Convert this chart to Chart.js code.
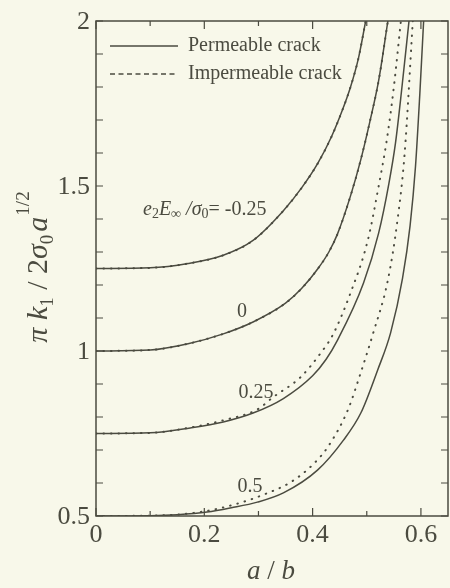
<!DOCTYPE html>
<html>
<head>
<meta charset="utf-8">
<script src="https://cdn.jsdelivr.net/npm/chart.js@4.4.1/dist/chart.umd.min.js"></script>
<style>
  html, body { margin: 0; padding: 0; background: #f8f8ea; }
  #wrap { width: 450px; height: 588px; position: relative; }
</style>
</head>
<body>
<div id="wrap"><canvas id="crackChart"></canvas></div>
<script>
// values, [a/b, pi k1 / 2 sigma0 a^1/2]
const permNeg025 = [[0,1.25],[0.1,1.252],[0.17,1.265],[0.235,1.29],[0.29,1.335],[0.346,1.425],[0.38,1.495],[0.41,1.57],[0.435,1.65],[0.455,1.73],[0.47,1.8],[0.485,1.89],[0.498,2.0]];
const impNeg025  = [[0,1.25],[0.1,1.252],[0.17,1.265],[0.235,1.29],[0.29,1.335],[0.346,1.425],[0.38,1.495],[0.41,1.57],[0.435,1.65],[0.455,1.73],[0.47,1.8],[0.485,1.89],[0.498,2.0]];
const perm0 = [[0,1.0],[0.1,1.003],[0.17,1.022],[0.235,1.052],[0.29,1.088],[0.35,1.145],[0.38,1.19],[0.41,1.25],[0.43,1.3],[0.446,1.355],[0.47,1.47],[0.489,1.58],[0.505,1.69],[0.522,1.82],[0.539,2.0]];
const imp0  = [[0,1.0],[0.1,1.003],[0.17,1.022],[0.235,1.052],[0.29,1.088],[0.35,1.145],[0.38,1.19],[0.41,1.25],[0.43,1.3],[0.446,1.355],[0.47,1.47],[0.489,1.58],[0.505,1.69],[0.522,1.82],[0.539,2.0]];
const perm025 = [[0,0.75],[0.1,0.752],[0.174,0.767],[0.235,0.785],[0.29,0.812],[0.346,0.856],[0.4,0.925],[0.425,0.975],[0.446,1.033],[0.494,1.206],[0.522,1.358],[0.541,1.509],[0.553,1.63],[0.565,1.8],[0.578,2.0]];
const imp025  = [[0,0.75],[0.1,0.752],[0.174,0.768],[0.235,0.79],[0.298,0.823],[0.327,0.86],[0.378,0.921],[0.415,0.994],[0.437,1.048],[0.47,1.176],[0.502,1.336],[0.522,1.5],[0.537,1.64],[0.55,1.8],[0.563,2.0]];
const perm05 = [[0,0.5],[0.1,0.501],[0.15,0.504],[0.205,0.512],[0.25,0.525],[0.298,0.542],[0.346,0.57],[0.409,0.639],[0.457,0.73],[0.489,0.812],[0.52,0.942],[0.544,1.055],[0.566,1.22],[0.58,1.38],[0.59,1.56],[0.598,1.78],[0.605,2.0]];
const imp05  = [[0,0.5],[0.12,0.502],[0.2,0.514],[0.26,0.537],[0.31,0.565],[0.36,0.603],[0.4,0.655],[0.428,0.709],[0.465,0.821],[0.489,0.935],[0.512,1.055],[0.539,1.215],[0.557,1.4],[0.57,1.6],[0.585,2.0]];

const xTicks = [0, 0.1, 0.2, 0.3, 0.4, 0.5, 0.6];
const xTickLabels = ['0', '', '0.2', '', '0.4', '', '0.6'];
const yTicks = [0.5, 0.6, 0.7, 0.8, 0.9, 1.0, 1.1, 1.2, 1.3, 1.4, 1.5, 1.6, 1.7, 1.8, 1.9, 2.0];
const yTickLabels = ['0.5', '', '', '', '', '1', '', '', '', '', '1.5', '', '', '', '', '2'];

const legendLabels = ['Permeable crack', 'Impermeable crack'];
const curveLabels = ['0', '0.25', '0.5'];

const ink = '#4b4b40';
const serif = '"Liberation Serif", "DejaVu Serif", serif';

function toXY(arr) {
    return arr.map(p => ({ x: p[0], y: p[1] }));
}

function solid(arr) {
    return { data: toXY(arr), borderColor: ink, borderWidth: 1.5, pointRadius: 0, cubicInterpolationMode: 'monotone', fill: false };
}

function dotted(arr) {
    return { data: toXY(arr), borderColor: ink, borderWidth: 2, borderDash: [0.5, 7], borderCapStyle: 'round', pointRadius: 0, cubicInterpolationMode: 'monotone', fill: false };
}

// draw a run of text pieces with different fonts / offsets
function richText(ctx, parts, x, y, align) {
    let total = 0;
    parts.forEach(p => { ctx.font = p.font; total += ctx.measureText(p.t).width + (p.gap || 0); });
    let cx = align === 'center' ? x - total / 2 : x;
    parts.forEach(p => {
        ctx.font = p.font;
        ctx.fillText(p.t, cx, y + (p.dy || 0));
        cx += ctx.measureText(p.t).width + (p.gap || 0);
    });
}

const framePlugin = {
    id: 'framePlugin',
    afterDraw(chart) {
        const ctx = chart.ctx;
        const area = chart.chartArea;
        const xs = chart.scales.x, ys = chart.scales.y;
        ctx.save();
        ctx.strokeStyle = ink;
        ctx.fillStyle = ink;
        ctx.lineWidth = 1.5;
        ctx.strokeRect(area.left, area.top, area.right - area.left, area.bottom - area.top);

        // inward ticks, all four sides
        ctx.lineWidth = 1.2;
        ctx.beginPath();
        xTicks.forEach((v, i) => {
            const px = xs.getPixelForValue(v);
            const len = xTickLabels[i] ? 8 : 5;
            ctx.moveTo(px, area.bottom); ctx.lineTo(px, area.bottom - len);
            ctx.moveTo(px, area.top); ctx.lineTo(px, area.top + len);
        });
        yTicks.forEach(v => {
            const py = ys.getPixelForValue(v);
            ctx.moveTo(area.left, py); ctx.lineTo(area.left + 7, py);
            ctx.moveTo(area.right, py); ctx.lineTo(area.right - 7, py);
        });
        ctx.stroke();

        // tick labels
        ctx.font = '26px ' + serif;
        ctx.textAlign = 'center';
        ctx.textBaseline = 'top';
        xTicks.forEach((v, i) => {
            if (xTickLabels[i]) ctx.fillText(xTickLabels[i], xs.getPixelForValue(v), area.bottom + 6);
        });
        ctx.textAlign = 'right';
        ctx.textBaseline = 'middle';
        yTicks.forEach((v, i) => {
            if (yTickLabels[i]) ctx.fillText(yTickLabels[i], area.left - 6, ys.getPixelForValue(v) + 1);
        });

        // axis titles
        ctx.textAlign = 'left';
        ctx.textBaseline = 'alphabetic';
        richText(ctx, [{ t: 'a', font: 'italic 27px ' + serif }, { t: ' / ', font: '27px ' + serif }, { t: 'b', font: 'italic 27px ' + serif }], 271, 579, 'center');

        const it30 = 'italic 30px ' + serif, rm30 = '30px ' + serif, sub = '19px ' + serif;
        ctx.save();
        ctx.translate(47, 267);
        ctx.rotate(-Math.PI / 2);
        richText(ctx, [
            { t: 'π ', font: it30 },
            { t: 'k', font: it30 },
            { t: '1', font: sub, dy: 6 },
            { t: ' / 2', font: rm30 },
            { t: 'σ', font: it30 },
            { t: '0', font: sub, dy: 6, gap: 3 },
            { t: 'a', font: it30, gap: 1 },
            { t: '1/2', font: sub, dy: -18 }
        ], 0, 0, 'center');
        ctx.restore();

        // legend
        ctx.lineWidth = 1.5;
        ctx.beginPath();
        ctx.moveTo(110, 46); ctx.lineTo(178, 46);
        ctx.stroke();
        ctx.setLineDash([5, 3.5]);
        ctx.beginPath();
        ctx.moveTo(110, 74); ctx.lineTo(178, 74);
        ctx.stroke();
        ctx.setLineDash([]);
        ctx.font = '20px ' + serif;
        ctx.textBaseline = 'middle';
        ctx.fillText(legendLabels[0], 188, 46);
        ctx.fillText(legendLabels[1], 188, 74);

        // curve labels
        const it20 = 'italic 20px ' + serif, rm20 = '20px ' + serif, sb = 'italic 14px ' + serif, sbr = '14px ' + serif;
        ctx.textBaseline = 'alphabetic';
        richText(ctx, [
            { t: 'e', font: it20 },
            { t: '2', font: sbr, dy: 3 },
            { t: 'E', font: it20 },
            { t: '∞', font: sb, dy: 3 },
            { t: ' /', font: it20 },
            { t: 'σ', font: it20 },
            { t: '0', font: sbr, dy: 3 },
            { t: '= -0.25', font: rm20 }
        ], 143, 215, 'left');
        ctx.font = rm20;
        ctx.textBaseline = 'middle';
        ctx.textAlign = 'center';
        ctx.fillText(curveLabels[0], 242, 312);
        ctx.fillText(curveLabels[1], 256, 393);
        ctx.fillText(curveLabels[2], 250, 487);
        ctx.restore();
    }
};

new Chart(document.getElementById('crackChart'), {
    type: 'line',
    data: {
        datasets: [
            solid(permNeg025), dotted(impNeg025),
            solid(perm0), dotted(imp0),
            solid(perm025), dotted(imp025),
            solid(perm05), dotted(imp05)
        ]
    },
    options: {
        responsive: true,
        maintainAspectRatio: false,
        animation: false,
        layout: { padding: { left: 96, top: 21, right: 2, bottom: 72 } },
        scales: {
            x: {
                type: 'linear', min: 0, max: 0.65, display: false,
                afterBuildTicks: s => { s.ticks = xTicks.map(v => ({ value: v })); }
            },
            y: {
                type: 'linear', min: 0.5, max: 2, display: false,
                afterBuildTicks: s => { s.ticks = yTicks.map(v => ({ value: v })); }
            }
        },
        plugins: {
            legend: { display: false },
            tooltip: { enabled: false }
        }
    },
    plugins: [framePlugin]
});
</script>
</body>
</html>
